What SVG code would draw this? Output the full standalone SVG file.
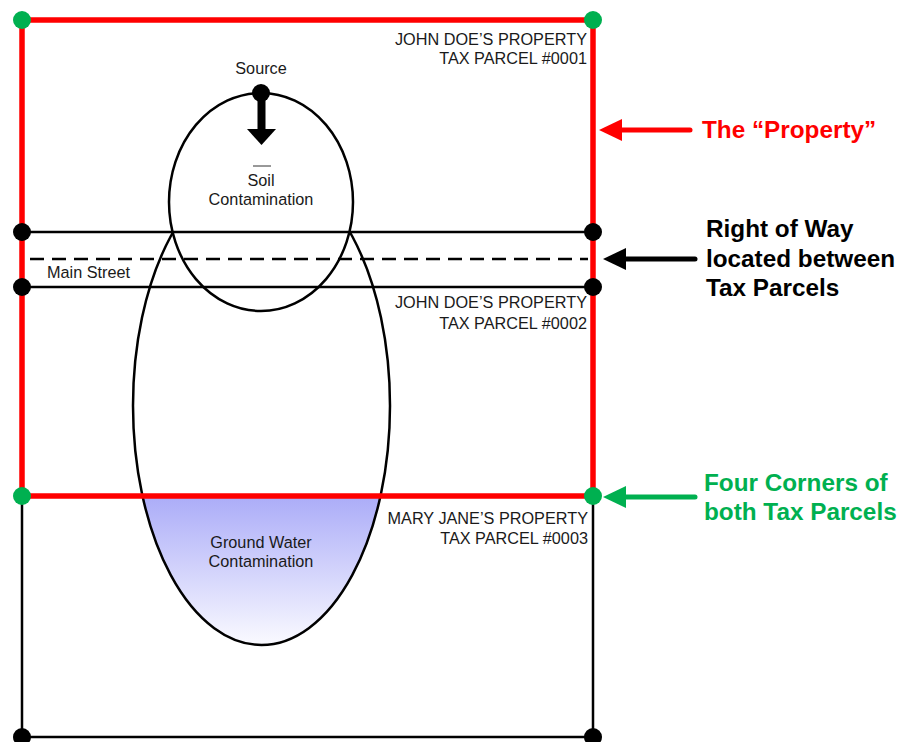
<svg xmlns="http://www.w3.org/2000/svg" width="903" height="742" viewBox="0 0 903 742">
  <style>
    .lbl { font-family: "Liberation Sans", Arial, sans-serif; font-size: 16.25px; fill: #1a1a1a; }
    .mid { text-anchor: middle; }
    .end { text-anchor: end; }
    .call { font-family: "Liberation Sans", Arial, sans-serif; font-size: 24.3px; font-weight: bold; }
    .thin { stroke: #000; stroke-width: 2.5; fill: none; }
    .dash { stroke: #000; stroke-width: 2.5; fill: none; stroke-dasharray: 14 8; }
    .red { stroke: #ff0000; stroke-width: 5.5; fill: none; }
    .dotK { fill: #000; }
    .dotG { fill: #00b050; }
  </style>
  <defs>
    <linearGradient id="gw" gradientUnits="userSpaceOnUse" x1="0" y1="496" x2="0" y2="645">
      <stop offset="0" stop-color="#abacf8"/>
      <stop offset="1" stop-color="#fafaff"/>
    </linearGradient>
    <clipPath id="belowParcel">
      <rect x="0" y="496" width="903" height="246"/>
    </clipPath>
  </defs>

  <rect width="903" height="742" fill="#fff"/>

  <!-- plume of ground water contamination -->
  <g id="groundwater">
    <ellipse cx="261.5" cy="405.7" rx="128.5" ry="239.3" fill="url(#gw)" clip-path="url(#belowParcel)"/>
    <ellipse cx="261.5" cy="405.7" rx="128.5" ry="239.3" class="thin"/>
    <text class="lbl mid" x="261" y="548">Ground Water</text>
    <text class="lbl mid" x="261" y="567">Contamination</text>
  </g>

  <!-- soil contamination around the source -->
  <g id="soil">
    <ellipse cx="261" cy="202" rx="92" ry="109" fill="#fff" stroke="#000" stroke-width="2.5"/>
    <line x1="253" y1="166" x2="271" y2="166" stroke="#333" stroke-width="1"/>
    <text class="lbl mid" x="261" y="186">Soil</text>
    <text class="lbl mid" x="261" y="205">Contamination</text>
  </g>

  <!-- parcel boundaries, right of way and callout arrows -->
  <g id="connectors">
    <line x1="22" y1="232" x2="593" y2="232" class="thin"/>
    <line x1="22" y1="287" x2="593" y2="287" class="thin"/>
    <line x1="30" y1="259" x2="588" y2="259" class="dash"/>
    <polyline points="22,496 22,737 593,737 593,496" class="thin"/>
    <rect x="22" y="20" width="571" height="476" class="red"/>
    <line x1="690" y1="130" x2="620" y2="130" stroke="#ff0000" stroke-width="5" stroke-linecap="round"/>
    <polygon points="599,130 622,119 622,141" fill="#ff0000"/>
    <line x1="695" y1="259" x2="622" y2="259" stroke="#000" stroke-width="5" stroke-linecap="round"/>
    <polygon points="603,259 626,248 626,270" fill="#000"/>
    <line x1="695" y1="497" x2="622" y2="497" stroke="#00b050" stroke-width="5" stroke-linecap="round"/>
    <polygon points="603,497 626,486 626,508" fill="#00b050"/>
  </g>

  <!-- source point and migration arrow -->
  <g id="source">
    <rect x="257.5" y="93" width="8" height="37" fill="#000"/>
    <polygon points="247,129 276,129 261.5,145" fill="#000"/>
    <circle cx="261" cy="93" r="9" class="dotK"/>
    <text class="lbl mid" x="261" y="74">Source</text>
  </g>

  <!-- corner markers -->
  <g id="corners">
    <circle cx="22" cy="232" r="9" class="dotK"/>
    <circle cx="593" cy="232" r="9" class="dotK"/>
    <circle cx="22" cy="287" r="9" class="dotK"/>
    <circle cx="593" cy="287" r="9" class="dotK"/>
    <circle cx="22" cy="737" r="9" class="dotK"/>
    <circle cx="593" cy="737" r="9" class="dotK"/>
    <circle cx="22" cy="20" r="9" class="dotG"/>
    <circle cx="593" cy="20" r="9" class="dotG"/>
    <circle cx="22" cy="496" r="9" class="dotG"/>
    <circle cx="593" cy="496" r="9" class="dotG"/>
  </g>

  <!-- parcel labels -->
  <g id="parcel-0001">
    <text class="lbl end" x="587" y="45">JOHN DOE’S PROPERTY</text>
    <text class="lbl end" x="587" y="64">TAX PARCEL #0001</text>
  </g>
  <g id="main-street">
    <text class="lbl" x="47" y="278">Main Street</text>
  </g>
  <g id="parcel-0002">
    <text class="lbl end" x="587" y="308">JOHN DOE’S PROPERTY</text>
    <text class="lbl end" x="587" y="329">TAX PARCEL #0002</text>
  </g>
  <g id="parcel-0003">
    <text class="lbl end" x="588" y="524">MARY JANE’S PROPERTY</text>
    <text class="lbl end" x="588" y="544">TAX PARCEL #0003</text>
  </g>

  <!-- callout captions -->
  <g id="caption-property">
    <text class="call" x="702" y="138" fill="#ff0000">The “Property”</text>
  </g>
  <g id="caption-row">
    <text class="call" x="706" y="237" fill="#000">Right of Way</text>
    <text class="call" x="706" y="267" fill="#000">located between</text>
    <text class="call" x="706" y="296" fill="#000">Tax Parcels</text>
  </g>
  <g id="caption-corners">
    <text class="call" x="704" y="491" fill="#00b050">Four Corners of</text>
    <text class="call" x="704" y="520" fill="#00b050">both Tax Parcels</text>
  </g>
</svg>
